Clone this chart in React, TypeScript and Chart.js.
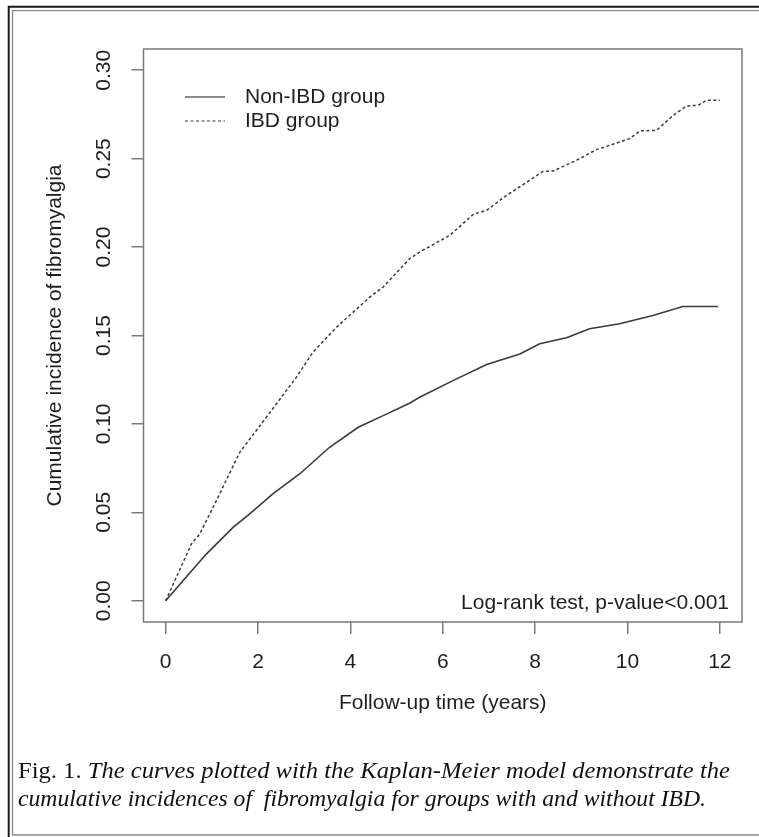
import React, { useEffect, useRef } from "react";
import { Chart, registerables } from "chart.js";

Chart.register(...registerables);

const nonIbdTimes = [0, 0.375, 0.88, 1.46, 1.82, 2.32, 2.9, 3.55, 4.17, 4.71, 5.28, 5.5, 6.22, 6.95, 7.67, 8.1, 8.68, 9.18, 9.83, 10.55, 11.2, 11.96];
const nonIbdValues = [0, 0.0113, 0.0264, 0.0415, 0.0491, 0.0604, 0.0717, 0.0868, 0.0981, 0.1047, 0.1117, 0.1151, 0.1245, 0.1336, 0.1396, 0.1453, 0.1487, 0.1538, 0.1566, 0.1613, 0.1664, 0.1664];

const ibdTimes = [0, 0.557, 0.736, 1.098, 1.603, 2.18, 2.83, 3.19, 3.7, 4.42, 4.71, 5.28, 5.5, 6.15, 6.66, 6.95, 7.38, 7.88, 8.17, 8.39, 8.9, 9.33, 10.05, 10.27, 10.63, 10.99, 11.28, 11.53, 11.71, 12.0];
const ibdValues = [0, 0.0321, 0.0377, 0.0566, 0.0839, 0.1038, 0.1264, 0.1406, 0.1547, 0.1717, 0.1774, 0.1934, 0.1972, 0.2066, 0.2185, 0.2208, 0.2292, 0.2377, 0.2428, 0.243, 0.2491, 0.2551, 0.2613, 0.2657, 0.266, 0.2745, 0.2798, 0.2802, 0.283, 0.283];

const xTicks = [0, 2, 4, 6, 8, 10, 12];
const yTicks = [0, 0.05, 0.1, 0.15, 0.2, 0.25, 0.3];
const yTickLabels = ["0.00", "0.05", "0.10", "0.15", "0.20", "0.25", "0.30"];
const seriesNames = ["Non-IBD group", "IBD group"];
const xTitle = "Follow-up time (years)";
const yTitle = "Cumulative incidence of fibromyalgia";
const noteText = "Log-rank test, p-value<0.001";
const captionLead = "Fig. 1. ";
const captionLine1 = "The curves plotted with the Kaplan-Meier model demonstrate the";
const captionLine2 = "cumulative incidences of  fibromyalgia for groups with and without IBD.";

const SANS = "'Liberation Sans', Arial, sans-serif";
const SERIF = "'Liberation Serif', 'Times New Roman', serif";
const AXIS_GRAY = "#7a7a7a";
const TEXT = "#1e1e1e";
const LINE = "#3a3a3a";

const decorPlugin = {
  id: "decor",
  beforeDraw(chart: any) {
    const ctx = chart.ctx;
    const W = chart.width;
    const H = chart.height;
    ctx.save();
    ctx.fillStyle = "#ffffff";
    ctx.fillRect(0, 0, W, H);
    // outer double frame
    ctx.strokeStyle = "#1a1a1a";
    ctx.lineWidth = 2;
    ctx.beginPath();
    ctx.moveTo(8.7, H);
    ctx.lineTo(8.7, 6.8);
    ctx.lineTo(W, 6.8);
    ctx.stroke();
    ctx.strokeStyle = "#8a8a8a";
    ctx.lineWidth = 1.3;
    ctx.beginPath();
    ctx.moveTo(12.5, 835);
    ctx.lineTo(12.5, 10.6);
    ctx.lineTo(W, 10.6);
    ctx.stroke();
    ctx.beginPath();
    ctx.moveTo(12.5, 835);
    ctx.lineTo(W, 835);
    ctx.stroke();
    ctx.restore();
  },
  afterDraw(chart: any) {
    const ctx = chart.ctx;
    const area = chart.chartArea;
    const xs = chart.scales.x;
    const ys = chart.scales.y;
    ctx.save();
    // plot box
    ctx.strokeStyle = AXIS_GRAY;
    ctx.lineWidth = 1.5;
    ctx.strokeRect(area.left, area.top, area.right - area.left, area.bottom - area.top);

    ctx.fillStyle = TEXT;
    ctx.font = `21px ${SANS}`;
    // x tick labels
    ctx.textAlign = "center";
    ctx.textBaseline = "middle";
    xTicks.forEach((v) => {
      ctx.fillText(String(v), xs.getPixelForValue(v), 662);
    });
    // y tick labels (rotated)
    yTicks.forEach((v, i) => {
      const py = ys.getPixelForValue(v);
      ctx.save();
      ctx.translate(104, py);
      ctx.rotate(-Math.PI / 2);
      ctx.fillText(yTickLabels[i], 0, 0);
      ctx.restore();
    });
    // axis titles
    ctx.fillText(xTitle, (area.left + area.right) / 2, 703);
    ctx.save();
    ctx.translate(55, (area.top + area.bottom) / 2);
    ctx.rotate(-Math.PI / 2);
    ctx.fillText(yTitle, 0, 0);
    ctx.restore();

    // legend
    const legY = [97, 121];
    ctx.strokeStyle = "#666";
    ctx.lineWidth = 1.5;
    ctx.beginPath();
    ctx.moveTo(185, legY[0]);
    ctx.lineTo(225, legY[0]);
    ctx.stroke();
    ctx.strokeStyle = LINE;
    ctx.lineWidth = 1.2;
    ctx.setLineDash([3, 2.5]);
    ctx.beginPath();
    ctx.moveTo(185, legY[1]);
    ctx.lineTo(225, legY[1]);
    ctx.stroke();
    ctx.setLineDash([]);
    ctx.textAlign = "left";
    ctx.fillText(seriesNames[0], 245, legY[0]);
    ctx.fillText(seriesNames[1], 245, legY[1]);

    // note
    ctx.textAlign = "right";
    ctx.fillText(noteText, 729, 603);

    // caption (fit each line to the reference width)
    ctx.textAlign = "left";
    ctx.textBaseline = "alphabetic";
    ctx.fillStyle = "#111";
    const capX = 18;
    const size = 23;
    ctx.font = `${size}px ${SERIF}`;
    const leadW = ctx.measureText(captionLead).width;
    ctx.font = `italic ${size}px ${SERIF}`;
    const l1W = leadW + ctx.measureText(captionLine1).width;
    const l2W = ctx.measureText(captionLine2).width;
    const s1 = 712 / l1W;
    const s2 = 688 / l2W;
    ctx.save();
    ctx.translate(capX, 778);
    ctx.scale(s1, 1);
    ctx.font = `${size}px ${SERIF}`;
    ctx.fillText(captionLead, 0, 0);
    ctx.font = `italic ${size}px ${SERIF}`;
    ctx.fillText(captionLine1, leadW, 0);
    ctx.restore();
    ctx.save();
    ctx.translate(capX, 806);
    ctx.scale(s2, 1);
    ctx.fillText(captionLine2, 0, 0);
    ctx.restore();
    ctx.restore();
  },
};

export default function App() {
  const ref = useRef<HTMLCanvasElement | null>(null);
  useEffect(() => {
    document.body.style.margin = "0";
    const canvas = ref.current;
    if (!canvas) return;
    const chart = new Chart(canvas, {
      type: "line",
      data: {
        datasets: [
          {
            label: seriesNames[0],
            data: nonIbdTimes.map((t, i) => ({ x: t, y: nonIbdValues[i] })),
            borderColor: LINE,
            borderWidth: 1.6,
            pointRadius: 0,
            tension: 0,
            fill: false,
          },
          {
            label: seriesNames[1],
            data: ibdTimes.map((t, i) => ({ x: t, y: ibdValues[i] })),
            borderColor: LINE,
            borderWidth: 1.5,
            borderDash: [3, 2.5],
            pointRadius: 0,
            tension: 0,
            fill: false,
          },
        ],
      },
      options: {
        animation: false,
        responsive: false,
        devicePixelRatio: 1,
        layout: { padding: { left: 131.5, top: 49, right: 17, bottom: 203 } },
        plugins: {
          legend: { display: false },
          tooltip: { enabled: false },
          title: { display: false },
        },
        scales: {
          x: {
            type: "linear",
            min: -0.48,
            max: 12.48,
            afterBuildTicks: (s: any) => {
              s.ticks = xTicks.map((v) => ({ value: v }));
            },
            ticks: { display: false },
            grid: { display: true, drawOnChartArea: false, drawTicks: true, tickLength: 12, color: AXIS_GRAY, lineWidth: 1.5 },
            border: { display: false },
          },
          y: {
            type: "linear",
            min: -0.012,
            max: 0.312,
            afterBuildTicks: (s: any) => {
              s.ticks = yTicks.map((v) => ({ value: v }));
            },
            ticks: { display: false },
            grid: { display: true, drawOnChartArea: false, drawTicks: true, tickLength: 12, color: AXIS_GRAY, lineWidth: 1.5 },
            border: { display: false },
          },
        },
      },
      plugins: [decorPlugin],
    });
    return () => chart.destroy();
  }, []);
  return <canvas ref={ref} width={759} height={837} style={{ display: "block", width: 759, height: 837 }} />;
}
